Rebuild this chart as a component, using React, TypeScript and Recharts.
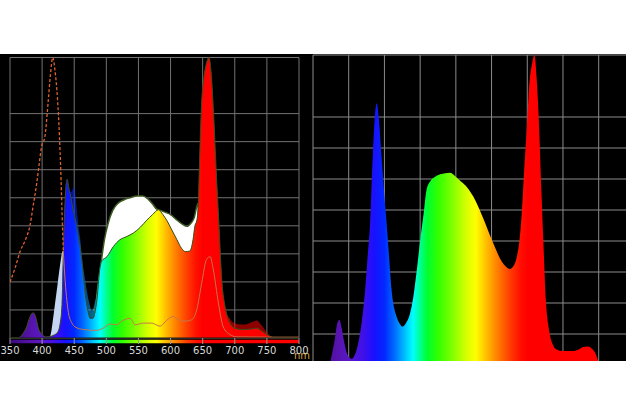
import React from "react";
import {
  Area,
  CartesianGrid,
  ComposedChart,
  Label,
  Line,
  ReferenceArea,
  XAxis,
  YAxis,
} from "recharts";

// wavelength (nm) -> relative intensity
const xTicks = [350, 400, 450, 500, 550, 600, 650, 700, 750, 800];
const yTicks = [0, 0.1, 0.2, 0.3, 0.4, 0.5, 0.6, 0.7, 0.8, 0.9, 1];

const spectrumStops: [number, string][] = [
  [350, "#3c0a7a"], [380, "#5512a8"], [400, "#5a18c8"], [420, "#4010e8"],
  [435, "#1a10ff"], [450, "#0028ff"], [465, "#0070ff"], [480, "#00c8ff"],
  [490, "#00ffff"], [500, "#00ff90"], [510, "#00ff30"], [525, "#30ff00"],
  [545, "#80ff00"], [565, "#d8ff00"], [578, "#ffff00"], [592, "#ffc000"],
  [608, "#ff8000"], [625, "#ff4000"], [640, "#ff1000"], [650, "#ff0000"],
  [800, "#ff0000"],
];

// left panel: outer envelope (shaded darker where it sticks out)
const leftShadow: [number, number][] = [
  [350, 0], [362, 0], [370, 0.015], [376, 0.04], [381, 0.075], [386, 0.09],
  [390, 0.075], [394, 0.036], [400, 0.012], [406, 0.004], [412, 0.005],
  [418, 0.01], [424, 0.02], [428, 0.05], [431, 0.12], [433, 0.3],
  [435.6, 0.48], [439, 0.566], [442, 0.53], [445, 0.52], [450, 0.54],
  [453, 0.48], [456, 0.41], [459, 0.36], [463, 0.27], [467, 0.208],
  [471, 0.15], [474.6, 0.113], [477, 0.095], [481, 0.115], [485, 0.16],
  [489, 0.23], [493, 0.275], [501, 0.29], [511, 0.326], [521, 0.35],
  [532, 0.362], [542, 0.374], [553, 0.395], [563, 0.42], [572, 0.44],
  [581, 0.457], [588, 0.44], [594, 0.42], [602, 0.385], [610, 0.35],
  [617, 0.32], [623, 0.308], [630, 0.31], [635, 0.35], [638, 0.4],
  [641, 0.42], [643, 0.47], [645, 0.62], [648, 0.82], [652, 0.93],
  [656, 0.98], [660, 1.0], [663, 0.95], [667, 0.8], [671, 0.6], [675, 0.42],
  [680, 0.2], [685, 0.11], [692, 0.07], [700, 0.052], [712, 0.048],
  [720, 0.05], [727, 0.057], [734, 0.062], [740, 0.05], [745, 0.036],
  [750, 0.02], [756, 0.006], [765, 0], [800, 0],
];

// left panel: bright spectrum
const leftSpectrum: [number, number][] = [
  [350, 0], [362, 0], [370, 0.015], [376, 0.04], [381, 0.075], [386, 0.09],
  [390, 0.075], [394, 0.036], [400, 0.012], [406, 0.004], [412, 0.005],
  [418, 0.01], [424, 0.02], [428, 0.05], [431, 0.12], [433, 0.3],
  [435.6, 0.48], [439, 0.566], [442, 0.53], [445, 0.5], [448, 0.46],
  [452, 0.42], [456, 0.37], [459, 0.33], [463, 0.25], [467, 0.16],
  [471, 0.1], [475, 0.07], [479, 0.07], [483, 0.1], [486, 0.15],
  [489, 0.23], [493, 0.275], [501, 0.29], [511, 0.326], [521, 0.35],
  [532, 0.362], [542, 0.374], [553, 0.395], [563, 0.42], [572, 0.44],
  [581, 0.457], [588, 0.44], [594, 0.42], [602, 0.385], [610, 0.35],
  [617, 0.32], [623, 0.308], [630, 0.31], [635, 0.35], [638, 0.4],
  [641, 0.42], [643, 0.47], [645, 0.62], [648, 0.82], [652, 0.93],
  [656, 0.98], [660, 1.0], [663, 0.95], [667, 0.8], [671, 0.6], [675, 0.42],
  [680, 0.2], [685, 0.11], [692, 0.055], [700, 0.035], [712, 0.03],
  [725, 0.032], [734, 0.035], [742, 0.025], [750, 0.012], [758, 0.003],
  [765, 0], [800, 0],
];

// left panel: white reference spectrum
const leftWhite: [number, number][] = [
  [350, 0], [480, 0], [486, 0.17], [492, 0.27], [497, 0.35], [503, 0.41],
  [510, 0.455], [518, 0.48], [527, 0.492], [537, 0.5], [548, 0.506],
  [557, 0.506], [565, 0.495], [572, 0.478], [578, 0.46], [584, 0.455],
  [592, 0.448], [600, 0.44], [609, 0.422], [617, 0.408], [625, 0.398],
  [632, 0.41], [637, 0.43], [641, 0.47], [643, 0.48], [644.5, 0.3],
  [646, 0], [800, 0],
];

// left panel: pale blue spike
const leftPale: [number, number][] = [
  [350, 0], [410, 0], [413, 0.01], [416, 0.05], [420, 0.12], [424, 0.19],
  [428, 0.26], [432, 0.31], [434, 0.3], [437, 0.15], [440, 0], [800, 0],
];

// left panel: orange sensitivity curve
const leftCurveDashed: [number, number][] = [
  [350, 0.2], [358, 0.25], [366, 0.31], [374, 0.35], [381, 0.4],
  [386, 0.47], [391.5, 0.55], [396, 0.63], [399, 0.68], [404.5, 0.72],
  [409.7, 0.85], [413, 0.94], [416.5, 1.0], [420, 0.955], [424, 0.85],
  [427, 0.72], [429, 0.6], [431, 0.45], [433, 0.31],
];
const leftCurveSolid: [number, number][] = [
  [433, 0.31], [436, 0.2], [441, 0.09], [446, 0.055], [451, 0.04],
  [465, 0.03], [485, 0.027], [495.6, 0.036], [505.8, 0.05], [516, 0.047],
  [524, 0.06], [537, 0.07], [544.8, 0.047], [557.7, 0.053], [570.7, 0.053],
  [583.7, 0.042], [594, 0.063], [604, 0.077], [612, 0.065], [622.5, 0.06],
  [633, 0.065], [640.7, 0.1], [648.5, 0.196], [656, 0.28], [661.6, 0.29],
  [666.6, 0.243], [674.5, 0.125], [682, 0.04], [692.7, 0.012], [703, 0.004],
  [750, 0.003], [800, 0.003],
];

// right panel spectrum
const rightSpectrum: [number, number][] = [
  [350, 0], [372, 0], [377, 0.04], [381, 0.09], [384, 0.135], [387, 0.145],
  [390, 0.12], [394, 0.07], [398, 0.035], [404, 0.02], [408, 0.03],
  [411, 0.048], [415, 0.09], [418, 0.135], [423, 0.242], [426.5, 0.35],
  [430, 0.46], [433.6, 0.672], [436, 0.78], [439.2, 0.844], [442, 0.8],
  [446, 0.672], [449.5, 0.56], [453, 0.458], [456.5, 0.35], [460, 0.242],
  [464, 0.18], [467, 0.156], [471, 0.135], [475.6, 0.124], [480, 0.135],
  [485, 0.16], [490.5, 0.22], [495, 0.3], [500, 0.4], [505, 0.49],
  [509, 0.565], [515, 0.595], [521, 0.607], [528, 0.615], [542, 0.62],
  [551, 0.605], [558, 0.59], [565, 0.575], [574, 0.545], [588, 0.475],
  [602, 0.395], [614, 0.335], [620, 0.318], [626, 0.31], [631, 0.32],
  [635, 0.345], [639, 0.4], [642, 0.48], [646, 0.64], [649, 0.75],
  [653, 0.91], [657, 0.975], [660, 1.0], [663, 0.93], [666, 0.8],
  [670, 0.55], [673, 0.37], [676, 0.21], [680, 0.12], [685, 0.07],
  [691, 0.05], [700, 0.045], [714, 0.045], [722, 0.05], [728, 0.058],
  [735, 0.06], [741, 0.052], [746, 0.035], [749, 0.015], [752, 0], [800, 0],
];

const pts = (arr: [number, number][]) => arr.map(([nm, v]) => ({ nm, v }));

const SpectrumGradient = ({ id }: { id: string }) => (
  <linearGradient id={id} x1="0" y1="0" x2="1" y2="0">
    {spectrumStops.map(([nm, c]) => (
      <stop key={nm} offset={(nm - 350) / 450} stopColor={c} />
    ))}
  </linearGradient>
);

const tickStyle = { fill: "#d8d8d8", fontSize: 10, fontFamily: "DejaVu Sans" };

function LeftPanel() {
  return (
    <ComposedChart
      width={312}
      height={307}
      margin={{ top: 3.5, right: 13, left: 10, bottom: 0 }}
    >
      <defs>
        <SpectrumGradient id="specL" />
        <SpectrumGradient id="specBar" />
      </defs>
      <CartesianGrid stroke="#727272" strokeWidth={1} />
      <XAxis
        type="number"
        dataKey="nm"
        domain={[350, 800]}
        ticks={xTicks}
        allowDataOverflow
        height={23}
        tick={tickStyle}
        tickSize={6}
        tickMargin={3}
        tickLine={{ stroke: "#9a9a9a" }}
        axisLine={{ stroke: "#1a1a1a" }}
        interval={0}
      >
        <Label
          content={({ viewBox }: any) => (
            <text
              x={viewBox.x + viewBox.width + 3}
              y={viewBox.y + 21}
              textAnchor="middle"
              fill="#d8a840"
              fontSize={10}
              fontFamily="DejaVu Sans"
            >
              nm
            </text>
          )}
        />
      </XAxis>
      <YAxis hide domain={[0, 1]} ticks={yTicks} />
      <Area
        data={pts(leftWhite)}
        dataKey="v"
        type="monotone"
        fill="#ffffff"
        fillOpacity={1}
        stroke="#3d5a22"
        strokeWidth={1.5}
        isAnimationActive={false}
      />
      <Area
        data={pts(leftPale)}
        dataKey="v"
        type="monotone"
        fill="#c4d6f2"
        fillOpacity={1}
        stroke="none"
        isAnimationActive={false}
      />
      <Area
        data={pts(leftShadow)}
        dataKey="v"
        type="monotone"
        fill="url(#specL)"
        fillOpacity={0.55}
        stroke="none"
        isAnimationActive={false}
      />
      <Area
        data={pts(leftSpectrum)}
        dataKey="v"
        type="monotone"
        fill="url(#specL)"
        fillOpacity={1}
        stroke="#3b4d1c"
        strokeWidth={1}
        isAnimationActive={false}
      />
      <ReferenceArea
        x1={350}
        x2={800}
        y1={-0.019}
        y2={-0.006}
        fill="url(#specBar)"
        fillOpacity={1}
        stroke="none"
        ifOverflow="visible"
      />
      <Line
        data={pts(leftCurveDashed)}
        dataKey="v"
        type="monotone"
        stroke="#e0602e"
        strokeWidth={1.3}
        strokeDasharray="3 2"
        dot={false}
        isAnimationActive={false}
      />
      <Line
        data={pts(leftCurveSolid)}
        dataKey="v"
        type="monotone"
        stroke="#c8764a"
        strokeWidth={1}
        dot={false}
        isAnimationActive={false}
      />
    </ComposedChart>
  );
}

function RightPanel() {
  return (
    <ComposedChart
      width={340}
      height={320}
      margin={{ top: 1, right: 17.6, left: 1, bottom: 9 }}
    >
      <defs>
        <SpectrumGradient id="specR" />
      </defs>
      <CartesianGrid stroke="#8c8c8c" strokeWidth={1} />
      <XAxis
        type="number"
        dataKey="nm"
        domain={[350, 800]}
        ticks={xTicks}
        allowDataOverflow
        hide
      />
      <YAxis hide domain={[0, 1]} ticks={yTicks} />
      <Area
        data={pts(rightSpectrum)}
        dataKey="v"
        type="monotone"
        fill="url(#specR)"
        fillOpacity={1}
        stroke="none"
        isAnimationActive={false}
      />
    </ComposedChart>
  );
}

export default function App() {
  return (
    <div
      style={{
        position: "absolute",
        left: 0,
        top: 0,
        width: 626,
        height: 417,
        background: "#ffffff",
        overflow: "hidden",
      }}
    >
      <div
        style={{
          position: "absolute",
          left: 0,
          top: 54,
          width: 626,
          height: 307,
          background: "#000000",
        }}
      />
      <div style={{ position: "absolute", left: 0, top: 54 }}>
        <LeftPanel />
      </div>
      <div
        style={{
          position: "absolute",
          left: 312,
          top: 54,
          width: 314,
          height: 307,
          overflow: "hidden",
        }}
      >
        <RightPanel />
      </div>
    </div>
  );
}
